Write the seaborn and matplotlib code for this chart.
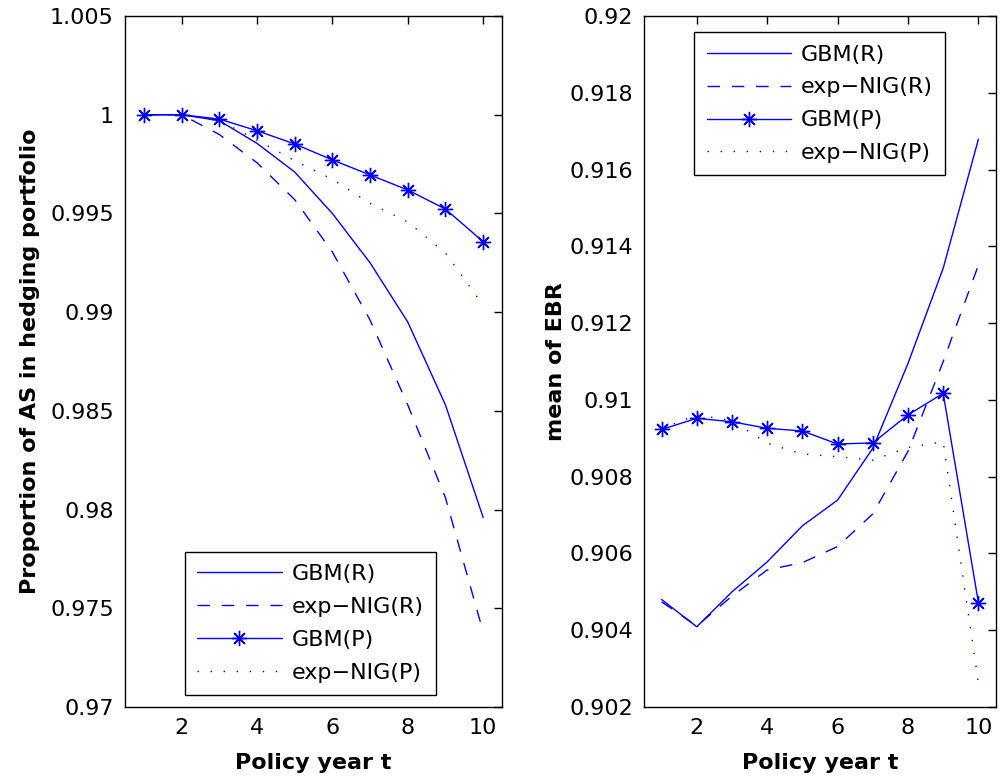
import numpy as np
import pandas as pd
import matplotlib
matplotlib.use("Agg")
import matplotlib.pyplot as plt
from matplotlib.ticker import FixedLocator, FuncFormatter
import seaborn as sns

# ---------------- data ----------------
years = [1, 2, 3, 4, 5, 6, 7, 8, 9, 10]
series_labels = ["GBM(R)", "exp\u2212NIG(R)", "GBM(P)", "exp\u2212NIG(P)"]

# Left panel: proportion of AS in hedging portfolio
prop_gbm_r = [1.0, 1.0, 0.9997, 0.99855, 0.9971, 0.9950, 0.9925, 0.9895, 0.9853, 0.9796]
prop_nig_r = [1.0, 1.0, 0.9990, 0.99757, 0.9957, 0.99305, 0.9896, 0.9853, 0.9806, 0.9738]
prop_gbm_p = [1.0, 1.0, 0.99978, 0.99919, 0.99852, 0.99771, 0.99695, 0.99619, 0.99522, 0.99357]
prop_nig_p = [1.0, 1.0, 0.9997, 0.99872, 0.99767, 0.99673, 0.99551, 0.99457, 0.99300, 0.99035]

# Right panel: mean of EBR
ebr_gbm_r = [0.9048, 0.90409, 0.90500, 0.90578, 0.90672, 0.90739, 0.90874, 0.91095, 0.91343, 0.91679]
ebr_nig_r = [0.90474, 0.90411, 0.90489, 0.90557, 0.90576, 0.90618, 0.90703, 0.90866, 0.91100, 0.91351]
ebr_gbm_p = [0.90923, 0.90952, 0.90943, 0.90926, 0.90919, 0.90885, 0.90888, 0.90961, 0.91017, 0.90472]
ebr_nig_p = [0.90925, 0.90961, 0.90946, 0.90887, 0.90859, 0.90852, 0.90843, 0.90876, 0.90891, 0.90263]

x_ticks = [2, 4, 6, 8, 10]
left_yticks = [0.97, 0.975, 0.98, 0.985, 0.99, 0.995, 1.0, 1.005]
right_yticks = [0.902, 0.904, 0.906, 0.908, 0.91, 0.912, 0.914, 0.916, 0.918, 0.92]

xlabel = "Policy year t"
left_ylabel = "Proportion of AS in hedging portfolio"
right_ylabel = "mean of EBR"

# ---------------- style ----------------
sns.set_theme(style="white")
plt.rcParams["font.family"] = ["DejaVu Sans"]
plt.rcParams["axes.edgecolor"] = "black"
plt.rcParams["axes.linewidth"] = 1.0
plt.rcParams["xtick.direction"] = "in"
plt.rcParams["ytick.direction"] = "in"
plt.rcParams["xtick.color"] = "black"
plt.rcParams["ytick.color"] = "black"
plt.rcParams["text.color"] = "black"
plt.rcParams["axes.labelcolor"] = "black"

BLUE = (0, 0, 1)
styles = [
    dict(linestyle="-", marker=None),
    dict(linestyle=(0, (9, 8.5)), marker=None),
    dict(linestyle="-", marker=(8, 2, 0)),
    dict(linestyle=(0, (1.0, 8.4)), marker=None),
]

fig = plt.figure(figsize=(10.04, 7.83), dpi=100)
ax1 = fig.add_axes([125 / 1004, 1 - 707 / 783, 377 / 1004, 691 / 783])
ax2 = fig.add_axes([644 / 1004, 1 - 707 / 783, 352 / 1004, 691 / 783])


def draw(ax, series):
    for lab, vals, st in zip(series_labels, series, styles):
        df = pd.DataFrame({"t": years, "v": vals})
        kw = dict(color=BLUE, linewidth=1.0, linestyle=st["linestyle"], label=lab)
        if st["marker"] is not None:
            kw.update(marker=st["marker"], markersize=11, mec=BLUE, mew=1.0)
        sns.lineplot(data=df, x="t", y="v", ax=ax, legend=False, **kw)


draw(ax1, [prop_gbm_r, prop_nig_r, prop_gbm_p, prop_nig_p])
draw(ax2, [ebr_gbm_r, ebr_nig_r, ebr_gbm_p, ebr_nig_p])

fmt = FuncFormatter(lambda v, p: ("%.3f" % v).rstrip("0").rstrip("."))

for ax, yt, ylab, ypad in [(ax1, left_yticks, left_ylabel, 7), (ax2, right_yticks, right_ylabel, 2)]:
    ax.set_xlim(0.5, 10.5)
    ax.set_ylim(yt[0], yt[-1])
    ax.xaxis.set_major_locator(FixedLocator(x_ticks))
    ax.yaxis.set_major_locator(FixedLocator(yt))
    ax.yaxis.set_major_formatter(fmt)
    ax.tick_params(axis="both", which="major", direction="in", length=6, width=1.0,
                   labelsize=16, top=True, right=True, pad=8)
    ax.set_xlabel(xlabel, fontsize=16, fontweight="bold", labelpad=11)
    ax.set_ylabel(ylab, fontsize=16, fontweight="bold", labelpad=ypad)
    for s in ax.spines.values():
        s.set_visible(True)
        s.set_color("black")
        s.set_linewidth(1.0)

leg_kw = dict(loc="upper left", fontsize=16, frameon=True, fancybox=False, framealpha=1,
              edgecolor="black", handlelength=3.8, handletextpad=0.45, labelspacing=0.58,
              borderpad=0.55, borderaxespad=0)
l1 = ax1.legend(bbox_to_anchor=(0.159, 0.2247), **leg_kw)
l2 = ax2.legend(bbox_to_anchor=(0.143, 0.9764), **leg_kw)
for lg in (l1, l2):
    lg.get_frame().set_linewidth(1.0)

fig.savefig("out.png", dpi=100)
